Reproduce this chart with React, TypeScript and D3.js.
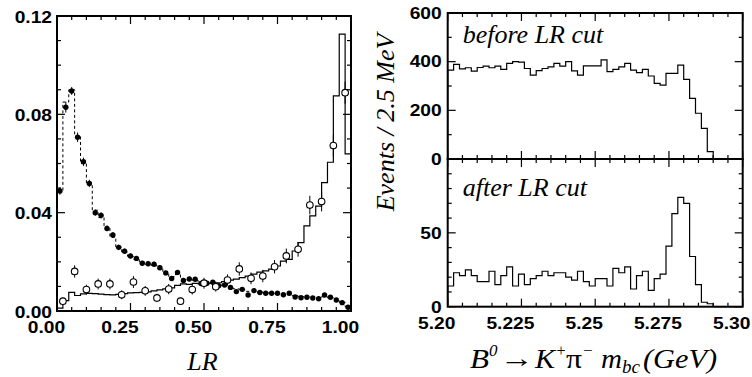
import React from 'react';
import * as d3 from 'd3';

// ---------- Left panel: LR distributions (50 bins of 0.02 / 25 bins of 0.04) ----------
const sigData = [0.0488, 0.0829, 0.0895, 0.0707, 0.0607, 0.0519, 0.0400, 0.0389, 0.0336, 0.0309,
  0.0259, 0.0243, 0.0224, 0.0214, 0.0194, 0.0192, 0.0190, 0.0176, 0.0155, 0.0132,
  0.0157, 0.0124, 0.0130, 0.0129, 0.0112, 0.0113, 0.0117, 0.0103, 0.0106, 0.0096,
  0.0079, 0.0088, 0.0065, 0.0083, 0.0075, 0.0072, 0.0072, 0.0072, 0.0066, 0.0072,
  0.0057, 0.0054, 0.0056, 0.0053, 0.0050, 0.0065, 0.0056, 0.0045, 0.0034, 0.0015];
const sigErr = [0.0015, 0.0022, 0.0016, 0.0019, 0.0017, 0.0015, 0.0013, 0.0013, 0.0012, 0.0012,
  0.0011, 0.0011, 0.0010, 0.0010, 0.0010, 0.0010, 0.0010, 0.0009, 0.0009, 0.0009,
  0.0009, 0.0009, 0.0009, 0.0009, 0.0008, 0.0008, 0.0008, 0.0008, 0.0008, 0.0008,
  0.0007, 0.0007, 0.0007, 0.0007, 0.0007, 0.0007, 0.0007, 0.0007, 0.0007, 0.0007,
  0.0006, 0.0006, 0.0006, 0.0006, 0.0006, 0.0006, 0.0006, 0.0006, 0.0005, 0.0005];
const sigMC = [0.0490, 0.0850, 0.0900, 0.0710, 0.0600, 0.0520, 0.0410, 0.0380, 0.0340, 0.0300,
  0.0260, 0.0240, 0.0222, 0.0210, 0.0198, 0.0190, 0.0186, 0.0172, 0.0158, 0.0140,
  0.0148, 0.0130, 0.0128, 0.0125, 0.0118, 0.0115, 0.0112, 0.0106, 0.0102, 0.0096,
  0.0090, 0.0086, 0.0080, 0.0080, 0.0077, 0.0074, 0.0072, 0.0070, 0.0068, 0.0066,
  0.0062, 0.0058, 0.0057, 0.0055, 0.0053, 0.0058, 0.0054, 0.0046, 0.0035, 0.0018];
const bgMC = [0.0012, 0.0042, 0.0076, 0.0063, 0.0070, 0.0072, 0.0071, 0.0069, 0.0067, 0.0066,
  0.0068, 0.0071, 0.0074, 0.0075, 0.0076, 0.0078, 0.0082, 0.0086, 0.0090, 0.0094,
  0.0104, 0.0110, 0.0108, 0.0112, 0.0110, 0.0113, 0.0112, 0.0115, 0.0120, 0.0126,
  0.0130, 0.0136, 0.0142, 0.0150, 0.0158, 0.0163, 0.0170, 0.0183, 0.0203, 0.0210,
  0.0244, 0.0278, 0.0346, 0.0387, 0.0427, 0.0522, 0.0605, 0.0875, 0.1126, 0.0639];
const bgData = [0.0040, 0.0161, 0.0087, 0.0110, 0.0110, 0.0066, 0.0118, 0.0082, 0.0053, 0.0089,
  0.0040, 0.0087, 0.0113, 0.0099, 0.0126, 0.0171, 0.0133, 0.0142, 0.0180, 0.0224,
  0.0251, 0.0431, 0.0445, 0.0673, 0.0888];
const bgErr = [0.0015, 0.0025, 0.0020, 0.0022, 0.0022, 0.0018, 0.0024, 0.0020, 0.0017, 0.0021,
  0.0015, 0.0020, 0.0022, 0.0020, 0.0023, 0.0027, 0.0024, 0.0025, 0.0027, 0.0030,
  0.0030, 0.0038, 0.0040, 0.0045, 0.0045];
const lrXTicks = [0, 0.25, 0.5, 0.75, 1.0];
const lrXLabels = ['0.00', '0.25', '0.50', '0.75', '1.00'];
const lrYTicks = [0, 0.04, 0.08, 0.12];
const lrYLabels = ['0.00', '0.04', '0.08', '0.12'];

// ---------- Right panels: mbc distributions (50 bins from 5.20 to 5.30) ----------
const beforeCut = [365, 389, 370, 375, 361, 376, 382, 375, 382, 368,
  393, 400, 398, 372, 345, 363, 372, 379, 393, 382,
  400, 362, 345, 383, 383, 383, 407, 359, 368, 379,
  393, 365, 355, 368, 341, 311, 304, 352, 352, 386,
  327, 249, 188, 126, 30, 0, 0, 0, 0, 0];
const afterCut = [14, 23, 21, 25, 21, 17, 17, 24, 15, 21,
  27, 14, 22, 15, 19, 21, 24, 21, 23, 23,
  20, 18, 24, 17, 14, 19, 19, 14, 26, 23,
  27, 12, 21, 24, 11, 19, 22, 41, 63, 74,
  70, 34, 15, 3, 2, 0, 0, 0, 0, 0];
const mXTicks = [5.2, 5.225, 5.25, 5.275, 5.3];
const mXLabels = ['5.20', '5.225', '5.25', '5.275', '5.30'];
const topYTicks = [0, 200, 400, 600];
const topYLabels = ['0', '200', '400', '600'];
const botYTicks = [0, 50];
const botYLabels = ['0', '50'];

const LABEL_FONT = { fontFamily: 'Liberation Sans, Arial, sans-serif', fontWeight: 700, fontSize: 16 };
const SERIF = 'Liberation Serif, Times New Roman, serif';

function stepPath(values: number[], x0: number, x1: number, xs: any, ys: any) {
  const n = values.length;
  const w = (x1 - x0) / n;
  const p = d3.path();
  p.moveTo(xs(x0), ys(0));
  values.forEach((v, i) => {
    p.lineTo(xs(x0 + i * w), ys(v));
    p.lineTo(xs(x0 + (i + 1) * w), ys(v));
  });
  p.lineTo(xs(x1), ys(0));
  return p.toString();
}

function Ticks({ xs, ys, xMinor, xMajor, yMinor, yMajor }: any) {
  const [xa, xb] = xs.range();
  const [ya, yb] = ys.range();
  const lines: any[] = [];
  const maj = 8, mn = 4;
  xMinor.forEach((v: number, i: number) => {
    const L = xMajor.some((m: number) => Math.abs(m - v) < 1e-9) ? maj : mn;
    const X = xs(v);
    lines.push(<line key={'xb' + i} x1={X} x2={X} y1={ya} y2={ya - L} />);
    lines.push(<line key={'xt' + i} x1={X} x2={X} y1={yb} y2={yb + L} />);
  });
  yMinor.forEach((v: number, i: number) => {
    const L = yMajor.some((m: number) => Math.abs(m - v) < 1e-9) ? maj : mn;
    const Y = ys(v);
    lines.push(<line key={'yl' + i} x1={xa} x2={xa + L} y1={Y} y2={Y} />);
    lines.push(<line key={'yr' + i} x1={xb} x2={xb - L} y1={Y} y2={Y} />);
  });
  return <g stroke="#000" strokeWidth={1.2}>{lines}</g>;
}

function Label({ x, y, text, anchor }: any) {
  return (
    <text transform={`translate(${x},${y}) scale(1.2,1)`} textAnchor={anchor} {...LABEL_FONT} fill="#000">
      {text}
    </text>
  );
}

export default function App() {
  const lx = d3.scaleLinear().domain([0, 1]).range([57, 351]);
  const ly = d3.scaleLinear().domain([0, 0.12]).range([311, 16]);
  const sigCenters = sigData.map((_, i) => 0.01 + 0.02 * i);
  const bgCenters = bgData.map((_, i) => 0.02 + 0.04 * i);

  const mx = d3.scaleLinear().domain([5.2, 5.3]).range([447.7, 742.7]);
  const yTop = d3.scaleLinear().domain([0, 600]).range([159, 13]);
  const yBot = d3.scaleLinear().domain([0, 100]).range([306.7, 159]);

  const lxMinor = d3.range(0, 21).map((i) => i * 0.05);
  const lyMinor = d3.range(0, 13).map((i) => i * 0.01);
  const mxMinor = d3.range(0, 21).map((i) => 5.2 + i * 0.005);
  const topMinor = d3.range(0, 601, 100);
  const botMinor = d3.range(0, 101, 10);

  const tb = 367.7; // title baseline
  const sup = tb - 11.5;
  const sub = tb + 5.5;

  return (
    <svg width={752} height={377} style={{ position: 'absolute', left: 0, top: 0, background: '#fff' }}>
      <rect x={0} y={0} width={752} height={377} fill="#fff" />
      {/* ================= LEFT PANEL ================= */}
      <Ticks xs={lx} ys={ly} xMinor={lxMinor} xMajor={lrXTicks} yMinor={lyMinor} yMajor={lrYTicks} />
      <path d={stepPath(sigMC, 0, 1, lx, ly)} fill="none" stroke="#000" strokeWidth={1} strokeDasharray="3,2.5" />
      <path d={stepPath(bgMC, 0, 1, lx, ly)} fill="none" stroke="#000" strokeWidth={1.2} />
      <g stroke="#000" strokeWidth={1}>
        {sigData.map((v, i) => (
          <line key={'se' + i} x1={lx(sigCenters[i])} x2={lx(sigCenters[i])} y1={ly(v - sigErr[i])} y2={ly(v + sigErr[i])} />
        ))}
      </g>
      <g fill="#000">
        {sigData.map((v, i) => (
          <circle key={'sp' + i} cx={lx(sigCenters[i])} cy={ly(v)} r={2.7} />
        ))}
      </g>
      <g stroke="#000" strokeWidth={1}>
        {bgData.map((v, i) => (
          <line key={'be' + i} x1={lx(bgCenters[i])} x2={lx(bgCenters[i])} y1={ly(v - bgErr[i])} y2={ly(v + bgErr[i])} />
        ))}
      </g>
      <g fill="#fff" stroke="#000" strokeWidth={1.1}>
        {bgData.map((v, i) => (
          <circle key={'bp' + i} cx={lx(bgCenters[i])} cy={ly(v)} r={3.3} />
        ))}
      </g>
      <rect x={lx(0)} y={ly(0.12)} width={lx(1) - lx(0)} height={ly(0) - ly(0.12)} fill="none" stroke="#000" strokeWidth={2} />
      {lrYTicks.map((v, i) => (
        <Label key={'lyl' + i} x={52} y={ly(v) + 6.5} text={lrYLabels[i]} anchor="end" />
      ))}
      {lrXTicks.map((v, i) => (
        <Label key={'lxl' + i} x={lx(v) - 10.5} y={332.5} text={lrXLabels[i]} anchor="middle" />
      ))}
      <text x={202.5} y={370} textAnchor="middle" fontFamily={SERIF} fontStyle="italic" fontSize={26}>LR</text>

      {/* ================= RIGHT PANELS ================= */}
      <Ticks xs={mx} ys={yTop} xMinor={mxMinor} xMajor={mXTicks} yMinor={topMinor} yMajor={topYTicks} />
      <Ticks xs={mx} ys={yBot} xMinor={mxMinor} xMajor={mXTicks} yMinor={botMinor} yMajor={botYTicks} />
      <path d={stepPath(beforeCut, 5.2, 5.3, mx, yTop)} fill="none" stroke="#000" strokeWidth={1.2} />
      <path d={stepPath(afterCut, 5.2, 5.3, mx, yBot)} fill="none" stroke="#000" strokeWidth={1.2} />
      <rect x={mx(5.2)} y={yTop(600)} width={mx(5.3) - mx(5.2)} height={yTop(0) - yTop(600)} fill="none" stroke="#000" strokeWidth={2} />
      <rect x={mx(5.2)} y={yBot(100)} width={mx(5.3) - mx(5.2)} height={yBot(0) - yBot(100)} fill="none" stroke="#000" strokeWidth={2} />
      {topYTicks.map((v, i) => (
        <Label key={'tyl' + i} x={441.7} y={yTop(v) + 5.8} text={topYLabels[i]} anchor="end" />
      ))}
      {botYTicks.map((v, i) => (
        <Label key={'byl' + i} x={441.7} y={yBot(v) + 5.8} text={botYLabels[i]} anchor="end" />
      ))}
      {mXTicks.map((v, i) => (
        <Label key={'mxl' + i} x={mx(v) - 11} y={329} text={mXLabels[i]} anchor="middle" />
      ))}
      <text x={462.7} y={42.7} fontFamily={SERIF} fontStyle="italic" fontSize={26}>before LR cut</text>
      <text x={462.7} y={196} fontFamily={SERIF} fontStyle="italic" fontSize={26}>after LR cut</text>
      <text transform="translate(394,122.5) rotate(-90)" textAnchor="middle" fontFamily={SERIF} fontStyle="italic" fontSize={26}>
        Events / 2.5 MeV
      </text>

      {/* x-axis title: B0 -> K+ pi-  m_bc (GeV) */}
      <g fontFamily={SERIF} fill="#000">
        <text x={470} y={tb} fontSize={27} fontStyle="italic" textLength={19} lengthAdjust="spacingAndGlyphs">B</text>
        <text x={489} y={sup} fontSize={17} fontStyle="italic">0</text>
        <text x={500} y={tb - 1} fontSize={26} textLength={34} lengthAdjust="spacingAndGlyphs">→</text>
        <text x={535} y={tb} fontSize={27} fontStyle="italic" textLength={20} lengthAdjust="spacingAndGlyphs">K</text>
        <text x={556.5} y={sup} fontSize={16}>+</text>
        <text x={566} y={tb} fontSize={27} textLength={16} lengthAdjust="spacingAndGlyphs">π</text>
        <text x={583} y={sup} fontSize={17}>−</text>
        <text x={601} y={tb} fontSize={27} fontStyle="italic" textLength={21} lengthAdjust="spacingAndGlyphs">m</text>
        <text x={622} y={sub} fontSize={18} fontStyle="italic" textLength={18} lengthAdjust="spacingAndGlyphs">bc</text>
        <text x={643} y={tb} fontSize={27} fontStyle="italic" textLength={74} lengthAdjust="spacingAndGlyphs">(GeV)</text>
      </g>
    </svg>
  );
}
